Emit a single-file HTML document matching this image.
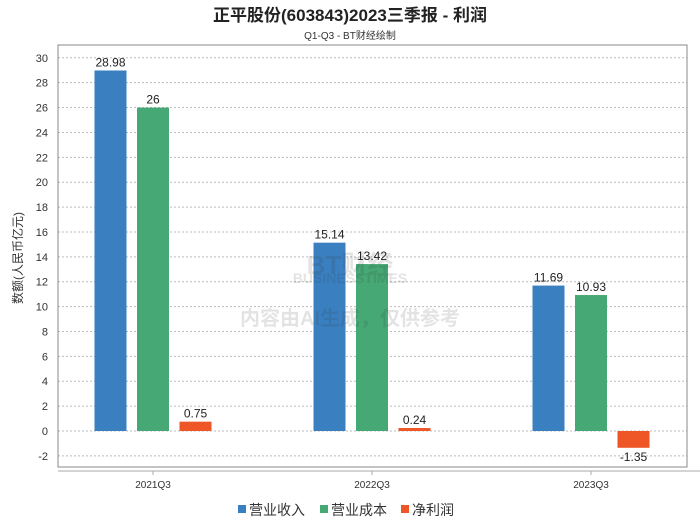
<!DOCTYPE html>
<html><head><meta charset="utf-8"><style>
body{margin:0;background:#fff;font-family:"Liberation Sans","Noto Sans CJK SC",sans-serif;}
svg text{font-family:"Liberation Sans","Noto Sans CJK SC",sans-serif;}
</style></head><body>
<svg id="c" width="700" height="524" xmlns="http://www.w3.org/2000/svg">
<text x="350" y="21" text-anchor="middle" font-size="17" font-weight="bold" fill="#222">正平股份(603843)2023三季报 - 利润</text>
<text x="350" y="39" text-anchor="middle" font-size="10" fill="#333">Q1-Q3 - BT财经绘制</text>
<text transform="translate(22,258) rotate(-90)" text-anchor="middle" font-size="12" fill="#333">数额(人民币亿元)</text>
<g id="grid"></g>
<g id="bars"></g>
<g opacity="0.13">
<text x="350" y="274" text-anchor="middle" font-size="26" font-weight="bold" fill="#333">BT财经</text>
<text x="350" y="283" text-anchor="middle" font-size="14" font-weight="bold" fill="#333">BUSINESSTIMES</text>
<text x="350" y="325" text-anchor="middle" font-size="20" font-weight="bold" fill="#333">内容由AI生成，仅供参考</text>
</g>
<rect x="58" y="45" width="629" height="422" fill="none" stroke="#888" stroke-width="1"/>
<line x1="58" y1="471" x2="700" y2="471" stroke="#aaa"/>
<g id="legend">
<rect x="238" y="505" width="8" height="8" fill="#3a80c0"/>
<text x="249" y="515" font-size="14" fill="#333">营业收入</text>
<rect x="320" y="505" width="8" height="8" fill="#46a874"/>
<text x="331" y="515" font-size="14" fill="#333">营业成本</text>
<rect x="401" y="505" width="8" height="8" fill="#ee5627"/>
<text x="412" y="515" font-size="14" fill="#333">净利润</text>
</g>
</svg>
<script>
const categories = ["2021Q3","2022Q3","2023Q3"];
const revenue = [28.98, 15.14, 11.69];
const cost = [26, 13.42, 10.93];
const profit = [0.75, 0.24, -1.35];
const yTicks = [-2,0,2,4,6,8,10,12,14,16,18,20,22,24,26,28,30];
const seriesNames = ["revenue","cost","profit"];
const colors = ["#3a80c0","#46a874","#ee5627"];

const NS = "http://www.w3.org/2000/svg";
function y(v){ return 431 - v * 12.44; }
function xc(i){ return 153 + i * 219; }
const grid = document.getElementById('grid');
const bars = document.getElementById('bars');
function mk(tag, attrs, parent){ const e=document.createElementNS(NS,tag); for(const k in attrs) e.setAttribute(k,attrs[k]); parent.appendChild(e); return e; }
yTicks.forEach(t=>{
  const l = mk('line',{x1:58,x2:687,y1:y(t),y2:y(t),stroke:'#bbb','stroke-dasharray':'2,2'},grid);
  
  
  const tx = mk('text',{x:48,y:y(t)+4,'text-anchor':'end','font-size':11,fill:'#333'},grid);
  tx.textContent = t;
  
  
});
categories.forEach((c,i)=>{
  const tk = mk('line',{x1:xc(i),x2:xc(i),y1:471,y2:475,stroke:'#aaa'},grid);
  
  
  const tx = mk('text',{x:xc(i),y:488,'text-anchor':'middle','font-size':10,fill:'#333'},grid);
  tx.textContent = c;
  
  
  [revenue,cost,profit].forEach((s,j)=>{
    const v = s[i];
    const cx = xc(i) + (j-1)*42.5;
    const top = Math.min(y(v), y(0)), h = Math.abs(y(v)-y(0));
    const r = mk('rect',{x:cx-16,y:top,width:32,height:h,fill:colors[j]},bars);
    
    
    const lt = mk('text',{x:cx,y: v>=0 ? y(v)-4 : y(v)+13,'text-anchor':'middle','font-size':12,fill:'#222'},bars);
    lt.textContent = v;
    
    
  });
});
</script>
</body></html>
